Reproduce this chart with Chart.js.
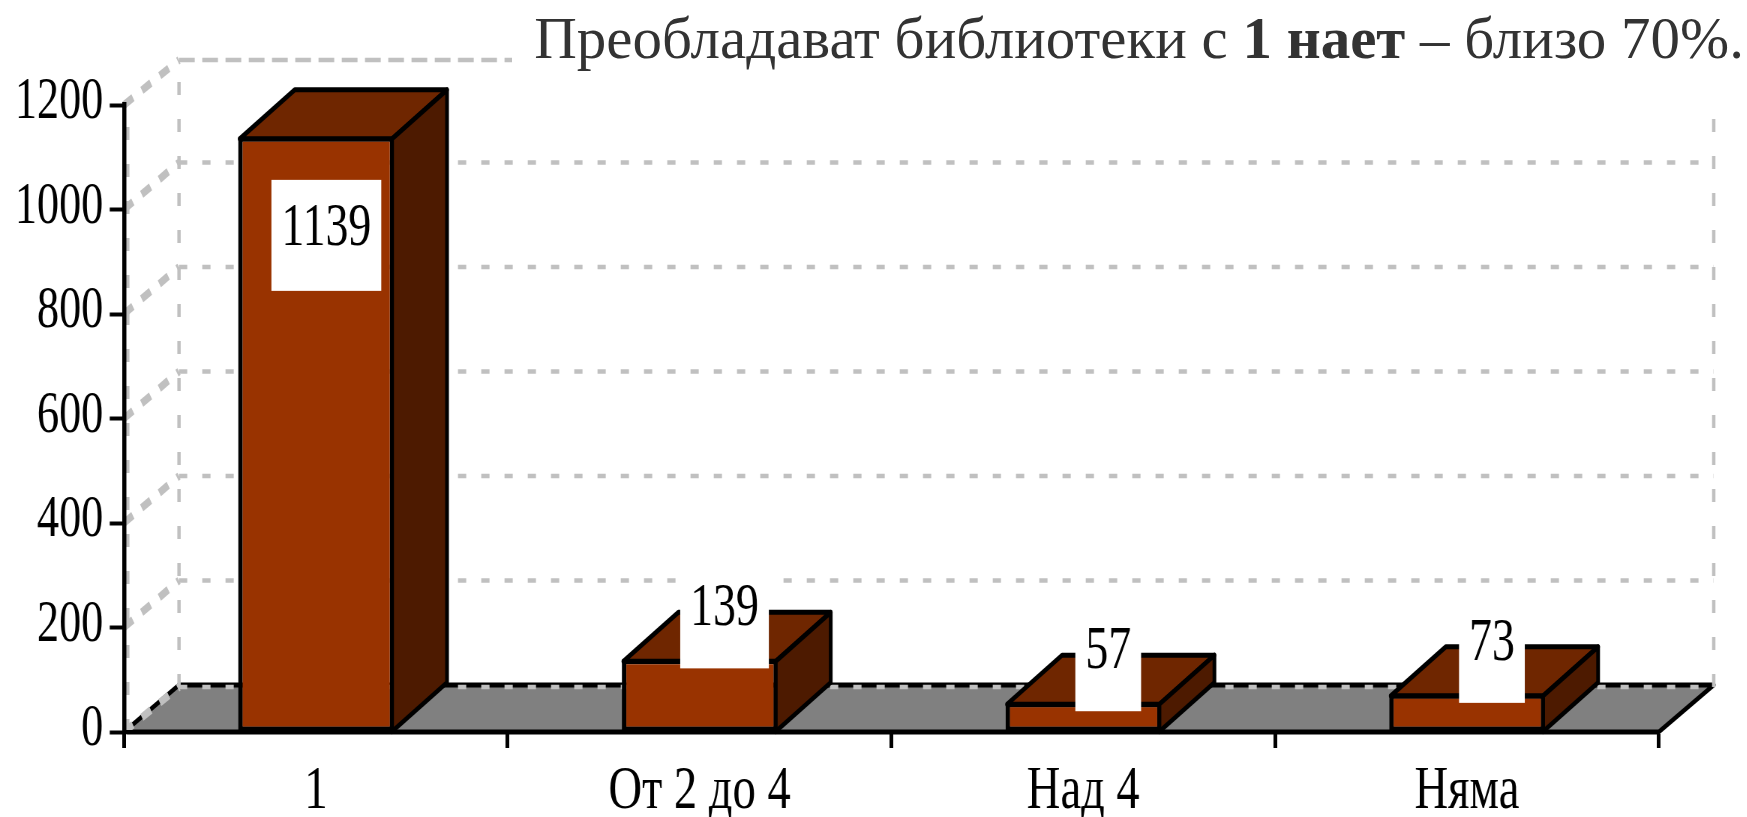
<!DOCTYPE html>
<html>
<head>
<meta charset="utf-8">
<script src="https://cdn.jsdelivr.net/npm/chart.js@4"></script>
<style>
html, body { margin: 0; padding: 0; background: #fff; overflow: hidden; }
#wrap { position: relative; width: 1747px; height: 817px; overflow: hidden; }
/* the original picture is squeezed sideways, so the canvas is drawn wide and squeezed too */
#chart { position: absolute; left: 0; top: 0; transform-origin: 0 0; transform: scaleX(0.75); }
/* white box of the title hides the end of the top gridline, same as the original */
#title { position: absolute; left: 512px; right: 0; top: 0; height: 100px; padding: 3px 3px 0 0; box-sizing: border-box; background: #fff; text-align: right; white-space: nowrap; color: #333; font: 59px/70px "Liberation Serif", serif; }
</style>
</head>
<body>
<div id="wrap">
	<canvas id="chart" width="2329" height="817"></canvas>
	<div id="title">Преобладават библиотеки с <b>1 нает</b> – близо 70%.</div>
</div>
<script>
const categories = ['1', 'От 2 до 4', 'Над 4', 'Няма'];
const values = [1139, 139, 57, 73];
const yTicks = [0, 200, 400, 600, 800, 1000, 1200];

const squeeze = 0.75;
const depthX = 55 / squeeze;
const depthY = 47;
const barDepthY = 49;
const serif = '"Liberation Serif", serif';

function dashedLine(ctx, x1, y1, x2, y2, width, dash) {
	ctx.save();
	ctx.strokeStyle = '#c0c0c0';
	ctx.lineWidth = width;
	ctx.setLineDash(dash);
	ctx.beginPath();
	ctx.moveTo(x1, y1);
	ctx.lineTo(x2, y2);
	ctx.stroke();
	ctx.restore();
}

function face(ctx, points, fill) {
	ctx.save();
	ctx.fillStyle = fill;
	ctx.strokeStyle = '#000';
	ctx.lineWidth = 5;
	ctx.lineJoin = 'round';
	ctx.beginPath();
	points.forEach((p, i) => i ? ctx.lineTo(p[0], p[1]) : ctx.moveTo(p[0], p[1]));
	ctx.closePath();
	ctx.fill();
	ctx.stroke();
	ctx.restore();
}

// floor and back walls, behind the axes
const wallsPlugin = {
	id: 'walls',
	beforeDraw(chart) {
		const ctx = chart.ctx, a = chart.chartArea, y = chart.scales.y;
		const floorY = y.getPixelForValue(0);
		const l = a.left, r = a.right;

		face(ctx, [[l, floorY], [l + depthX, floorY - depthY], [r + depthX, floorY - depthY], [r, floorY]], '#808080');

		const topY = y.getPixelForValue(1200);
		dashedLine(ctx, l + depthX, floorY - depthY + 2, l + depthX, topY - depthY + 2, 4.5, [13, 24]);
		dashedLine(ctx, r + depthX, floorY - depthY + 2, r + depthX, topY - depthY + 2, 4.5, [13, 24]);
		dashedLine(ctx, l + 5, floorY, l + 5, topY, 4.5, [13, 24]);

		yTicks.forEach(v => {
			const py = y.getPixelForValue(v);
			const back = py - depthY + (v === 0 || v === 1200 ? 2 : 0);
			dashedLine(ctx, l + depthX, back, r + depthX, back, 4.5, v === 1200 ? [21, 10] : [11, 20]);
			dashedLine(ctx, l, py, l + depthX, back, 8, [14, 14]);
		});
	},
	// top and side of every bar, taken from the bar the library laid out
	beforeDatasetsDraw(chart) {
		const ctx = chart.ctx;
		chart.getDatasetMeta(0).data.forEach(bar => {
			const x1 = bar.x - bar.width / 2 + 2, x2 = bar.x + bar.width / 2 - 2;
			const top = bar.y + 2, base = bar.base;
			face(ctx, [[x1, top], [x1 + depthX, top - barDepthY], [x2 + depthX, top - barDepthY], [x2, top]], '#6f2600');
			face(ctx, [[x2, top], [x2 + depthX, top - barDepthY], [x2 + depthX, base - barDepthY], [x2, base]], '#4d1a00');
		});
	},
	// white value boxes
	afterDatasetsDraw(chart) {
		const ctx = chart.ctx;
		ctx.save();
		ctx.font = '61px ' + serif;
		ctx.textAlign = 'center';
		ctx.textBaseline = 'middle';
		chart.getDatasetMeta(0).data.forEach((bar, i) => {
			const text = String(values[i]);
			const inside = values[i] > 1000;
			const cx = bar.x + (inside ? 10.5 : 25) / squeeze;
			const boxW = ctx.measureText(text).width + 20 / squeeze;
			const boxTop = inside ? bar.y + 43 : bar.y + 9 - 111;
			ctx.fillStyle = '#fff';
			ctx.fillRect(cx - boxW / 2, boxTop, boxW, 111);
			ctx.fillStyle = '#000';
			ctx.fillText(text, cx, boxTop + (inside ? 49 : 52));
		});
		ctx.restore();
	}
};

const myChart = new Chart(document.getElementById('chart').getContext('2d'), {
	type: 'bar',
	plugins: [wallsPlugin],
	data: {
		labels: categories,
		datasets: [{
			data: values,
			backgroundColor: '#993300',
			borderColor: '#000',
			borderWidth: { top: 5, bottom: 5, left: 6, right: 5 },
			borderSkipped: false,
			barPercentage: 0.405,
			categoryPercentage: 1
		}]
	},
	options: {
		responsive: false,
		animation: false,
		devicePixelRatio: 1,
		layout: {
			autoPadding: false,
			padding: { left: 0, right: 88 / squeeze, top: 105, bottom: 0 }
		},
		plugins: {
			legend: { display: false },
			title: { display: false },
			tooltip: { enabled: false }
		},
		scales: {
			x: {
				afterFit(scale) { scale.height = 85; },
				grid: { drawOnChartArea: false, drawTicks: true, tickLength: 16, tickWidth: 5, tickColor: '#000' },
				border: { display: true, color: '#000', width: 4 },
				ticks: { color: '#000', padding: 7, maxRotation: 0, font: { family: serif, size: 62 } }
			},
			y: {
				min: 0,
				max: 1200,
				afterFit(scale) { scale.width = 124 / squeeze; },
				grid: { drawOnChartArea: false, drawTicks: true, tickLength: 19, tickWidth: 4, tickColor: '#000' },
				border: { display: true, color: '#000', width: 5.5 },
				ticks: {
					stepSize: 200,
					color: '#000',
					padding: 8.5,
					font: { family: serif, size: 59, lineHeight: '5px' },
					// blank second line lifts the number a little above its tick
					callback: v => [String(v), '']
				}
			}
		}
	}
});
</script>
</body>
</html>
